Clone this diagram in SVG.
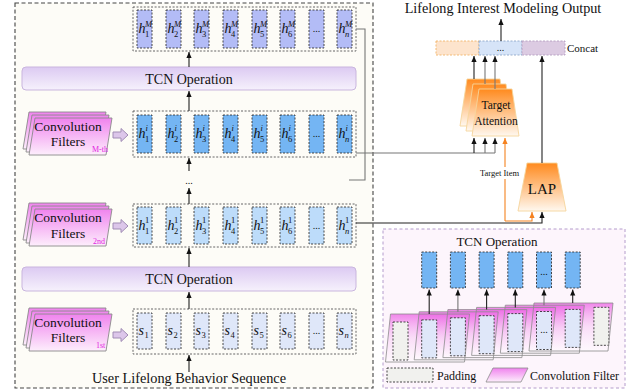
<svg xmlns="http://www.w3.org/2000/svg" xmlns:xlink="http://www.w3.org/1999/xlink" width="628" height="391" viewBox="0 0 628 391">
  <defs>
    <style>
      text { font-family: "Liberation Serif", "Times New Roman", serif; fill: #111; }
      .frame { fill: #fdfcf7; stroke: #444; stroke-width: 1.1; stroke-dasharray: 4 2.5; }
      .rowbox { fill: none; stroke: #555; stroke-width: 0.9; stroke-dasharray: 2 1.6; }
      .cell { stroke: #333; stroke-width: 0.9; stroke-dasharray: 2 1.5; }
      .cM { fill: #b3bcf6; }
      .cI { fill: #74b5f3; }
      .c1 { fill: #bddcfa; }
      .cS { fill: #dfe7f9; }
      .cP { fill: #f1f1ee; }
      .bar { fill: url(#barGrad); stroke: #c9b5de; stroke-width: 1; }
      .card { fill: url(#cardGrad); stroke: #8a8a8a; stroke-width: 0.9; }
      .blk { fill: #dcc6ea; stroke: #a08cb4; stroke-width: 1; }
      .conn { fill: none; stroke: #222; stroke-width: 1.1; }
      .connG { fill: none; stroke: #777; stroke-width: 1.1; }
      .connO { fill: none; stroke: #f5821f; stroke-width: 1.1; }
      .trap { fill: url(#orGrad); stroke: #f5d59c; stroke-width: 0.9; }
      .filt { fill: url(#filtGrad); stroke: none; }
      .filtEdge { fill: none; stroke: #8c8c8c; stroke-width: 0.8; }
      .h { font-style: italic; font-size: 14px; }
      .sp { font-size: 8.5px; font-style: italic; }
      .sb { font-size: 8.5px; }
      .dots { font-size: 10px; text-anchor: middle; }
      .big { font-size: 14px; text-anchor: middle; }
      .cf { font-size: 13.5px; text-anchor: middle; }
      .ord { font-size: 8px; fill: #e21ee0; }
    </style>
    <linearGradient id="barGrad" x1="0" y1="0" x2="0" y2="1">
      <stop offset="0" stop-color="#dccaf2"/>
      <stop offset="1" stop-color="#f6f1fc"/>
    </linearGradient>
    <linearGradient id="cardGrad" x1="0" y1="0" x2="0" y2="1">
      <stop offset="0" stop-color="#f083ee"/>
      <stop offset="1" stop-color="#fdeefc"/>
    </linearGradient>
    <linearGradient id="orGrad" x1="0" y1="0" x2="0" y2="1">
      <stop offset="0" stop-color="#ff8a1e"/>
      <stop offset="1" stop-color="#fff8ef"/>
    </linearGradient>
    <linearGradient id="filtGrad" x1="0" y1="0" x2="0" y2="1">
      <stop offset="0" stop-color="#ec5fe4" stop-opacity="0.75"/>
      <stop offset="0.5" stop-color="#f5b8f1" stop-opacity="0.4"/>
      <stop offset="1" stop-color="#ffffff" stop-opacity="0.3"/>
    </linearGradient>
    <marker id="ah" viewBox="0 0 6 6" refX="6" refY="3" markerWidth="6" markerHeight="6" markerUnits="userSpaceOnUse" orient="auto">
      <path d="M0,0.4 L6,3 L0,5.6 z" fill="#111"/>
    </marker>
    <marker id="ahO" viewBox="0 0 6 6" refX="6" refY="3" markerWidth="6" markerHeight="6" markerUnits="userSpaceOnUse" orient="auto">
      <path d="M0,0.4 L6,3 L0,5.6 z" fill="#f5821f"/>
    </marker>
    <!-- filter card of the left stacks -->
    <polygon id="cardShape" points="6,0 83,0 77,37 0,37"/>
    <!-- hollow block arrow -->
    <path id="blockArrow" d="M0,-3 H8 V-6.5 L15,0 L8,6.5 V3 H0 z"/>
    <!-- sliding convolution filter -->
    <polygon id="filtShape" points="0,48 79,48 84,0 5,0"/>
  </defs>

  <!-- ===== Left panel: stacked TCN layers ===== -->
  <rect class="frame" x="15" y="3" width="358" height="385"/>

  <!-- convolution filter stacks -->
  <g id="filters-M">
    <use href="#cardShape" class="card" transform="translate(23,112)"/>
    <use href="#cardShape" class="card" transform="translate(26,115)"/>
    <use href="#cardShape" class="card" transform="translate(29,118)"/>
    <text class="cf" x="68" y="131">Convolution</text>
    <text class="cf" x="68" y="146">Filters</text>
    <text class="ord" x="92" y="152">M-th</text>
    <use href="#blockArrow" class="blk" transform="translate(113,135)"/>
  </g>
  <g id="filters-2">
    <use href="#cardShape" class="card" transform="translate(23,203)"/>
    <use href="#cardShape" class="card" transform="translate(26,206)"/>
    <use href="#cardShape" class="card" transform="translate(29,209)"/>
    <text class="cf" x="68" y="222">Convolution</text>
    <text class="cf" x="68" y="238">Filters</text>
    <text class="ord" x="93" y="244">2nd</text>
    <use href="#blockArrow" class="blk" transform="translate(113,226)"/>
  </g>
  <g id="filters-1">
    <use href="#cardShape" class="card" transform="translate(23,308)"/>
    <use href="#cardShape" class="card" transform="translate(26,311)"/>
    <use href="#cardShape" class="card" transform="translate(29,314)"/>
    <text class="cf" x="68" y="327">Convolution</text>
    <text class="cf" x="68" y="342">Filters</text>
    <text class="ord" x="96" y="348">1st</text>
    <use href="#blockArrow" class="blk" transform="translate(113,335)"/>
  </g>

  <!-- TCN operation bars -->
  <g id="tcn-bar-top">
    <rect class="bar" x="22" y="67" width="334" height="23" rx="4"/>
    <text class="big" x="189" y="84">TCN Operation</text>
  </g>
  <g id="tcn-bar-bottom">
    <rect class="bar" x="22" y="267" width="334" height="24" rx="4"/>
    <text class="big" x="189" y="284">TCN Operation</text>
  </g>

  <!-- output row h^M -->
  <g id="row-hM">
    <rect class="rowbox" x="133" y="7" width="223" height="44"/>
    <rect class="cell cM" x="137" y="10" width="15" height="38"/>
    <rect class="cell cM" x="166" y="10" width="15" height="38"/>
    <rect class="cell cM" x="194" y="10" width="15" height="38"/>
    <rect class="cell cM" x="223" y="10" width="15" height="38"/>
    <rect class="cell cM" x="252" y="10" width="15" height="38"/>
    <rect class="cell cM" x="280" y="10" width="15" height="38"/>
    <rect class="cell cM" x="309" y="10" width="15" height="38"/>
    <rect class="cell cM" x="337" y="10" width="15" height="38"/>
    <text class="h" x="138.5" y="33">h</text><text class="sp" x="145" y="27">M</text><text class="sb" x="145" y="37">1</text>
    <text class="h" x="167.5" y="33">h</text><text class="sp" x="174" y="27">M</text><text class="sb" x="174" y="37">2</text>
    <text class="h" x="195.5" y="33">h</text><text class="sp" x="202" y="27">M</text><text class="sb" x="202" y="37">3</text>
    <text class="h" x="224.5" y="33">h</text><text class="sp" x="231" y="27">M</text><text class="sb" x="231" y="37">4</text>
    <text class="h" x="253.5" y="33">h</text><text class="sp" x="260" y="27">M</text><text class="sb" x="260" y="37">5</text>
    <text class="h" x="281.5" y="33">h</text><text class="sp" x="288" y="27">M</text><text class="sb" x="288" y="37">6</text>
    <text class="dots" x="316.5" y="32">...</text>
    <text class="h" x="338.5" y="33">h</text><text class="sp" x="345" y="27">M</text><text class="sp" x="345" y="37">n</text>
  </g>

  <!-- row h^i -->
  <g id="row-hi">
    <rect class="rowbox" x="133" y="111" width="223" height="46"/>
    <rect class="cell cI" x="137" y="115" width="15" height="38"/>
    <rect class="cell cI" x="166" y="115" width="15" height="38"/>
    <rect class="cell cI" x="194" y="115" width="15" height="38"/>
    <rect class="cell cI" x="223" y="115" width="15" height="38"/>
    <rect class="cell cI" x="252" y="115" width="15" height="38"/>
    <rect class="cell cI" x="280" y="115" width="15" height="38"/>
    <rect class="cell cI" x="309" y="115" width="15" height="38"/>
    <rect class="cell cI" x="337" y="115" width="15" height="38"/>
    <text class="h" x="138.5" y="138">h</text><text class="sp" x="145.5" y="131">i</text><text class="sb" x="145" y="142">1</text>
    <text class="h" x="167.5" y="138">h</text><text class="sp" x="174.5" y="131">i</text><text class="sb" x="174" y="142">2</text>
    <text class="h" x="195.5" y="138">h</text><text class="sp" x="202.5" y="131">i</text><text class="sb" x="202" y="142">3</text>
    <text class="h" x="224.5" y="138">h</text><text class="sp" x="231.5" y="131">i</text><text class="sb" x="231" y="142">4</text>
    <text class="h" x="253.5" y="138">h</text><text class="sp" x="260.5" y="131">i</text><text class="sb" x="260" y="142">5</text>
    <text class="h" x="281.5" y="138">h</text><text class="sp" x="288.5" y="131">i</text><text class="sb" x="288" y="142">6</text>
    <text class="dots" x="316.5" y="137">...</text>
    <text class="h" x="338.5" y="138">h</text><text class="sp" x="345.5" y="131">i</text><text class="sp" x="345" y="142">n</text>
  </g>

  <!-- row h^1 -->
  <g id="row-h1">
    <rect class="rowbox" x="133" y="204" width="223" height="43"/>
    <rect class="cell c1" x="137" y="207" width="15" height="37"/>
    <rect class="cell c1" x="166" y="207" width="15" height="37"/>
    <rect class="cell c1" x="194" y="207" width="15" height="37"/>
    <rect class="cell c1" x="223" y="207" width="15" height="37"/>
    <rect class="cell c1" x="252" y="207" width="15" height="37"/>
    <rect class="cell c1" x="280" y="207" width="15" height="37"/>
    <rect class="cell c1" x="309" y="207" width="15" height="37"/>
    <rect class="cell c1" x="337" y="207" width="15" height="37"/>
    <text class="h" x="138.5" y="230">h</text><text class="sb" x="145" y="223">1</text><text class="sb" x="145" y="234">1</text>
    <text class="h" x="167.5" y="230">h</text><text class="sb" x="174" y="223">1</text><text class="sb" x="174" y="234">2</text>
    <text class="h" x="195.5" y="230">h</text><text class="sb" x="202" y="223">1</text><text class="sb" x="202" y="234">3</text>
    <text class="h" x="224.5" y="230">h</text><text class="sb" x="231" y="223">1</text><text class="sb" x="231" y="234">4</text>
    <text class="h" x="253.5" y="230">h</text><text class="sb" x="260" y="223">1</text><text class="sb" x="260" y="234">5</text>
    <text class="h" x="281.5" y="230">h</text><text class="sb" x="288" y="223">1</text><text class="sb" x="288" y="234">6</text>
    <text class="dots" x="316.5" y="229">...</text>
    <text class="h" x="338.5" y="230">h</text><text class="sb" x="345" y="223">1</text><text class="sp" x="345" y="234">n</text>
  </g>

  <!-- input row s -->
  <g id="row-s">
    <rect class="rowbox" x="133" y="309" width="223" height="45"/>
    <rect class="cell cS" x="137" y="313" width="15" height="36"/>
    <rect class="cell cS" x="166" y="313" width="15" height="36"/>
    <rect class="cell cS" x="194" y="313" width="15" height="36"/>
    <rect class="cell cS" x="223" y="313" width="15" height="36"/>
    <rect class="cell cS" x="252" y="313" width="15" height="36"/>
    <rect class="cell cS" x="280" y="313" width="15" height="36"/>
    <rect class="cell cS" x="309" y="313" width="15" height="36"/>
    <rect class="cell cS" x="337" y="313" width="15" height="36"/>
    <text class="h" x="138.5" y="335">s</text><text class="sb" x="144.5" y="338">1</text>
    <text class="h" x="167.5" y="335">s</text><text class="sb" x="173.5" y="338">2</text>
    <text class="h" x="195.5" y="335">s</text><text class="sb" x="201.5" y="338">3</text>
    <text class="h" x="224.5" y="335">s</text><text class="sb" x="230.5" y="338">4</text>
    <text class="h" x="253.5" y="335">s</text><text class="sb" x="259.5" y="338">5</text>
    <text class="h" x="281.5" y="335">s</text><text class="sb" x="287.5" y="338">6</text>
    <text class="dots" x="316.5" y="334">...</text>
    <text class="h" x="338.5" y="335">s</text><text class="sp" x="344.5" y="338">n</text>
  </g>

  <text id="seq-label" class="big" x="189" y="383" style="font-size:14.3px">User Lifelong Behavior Sequence</text>
  <text id="layer-dots" class="dots" x="189" y="184">...</text>

  <!-- ===== Target attention / LAP / concat ===== -->
  <g id="concat">
    <rect x="436" y="41" width="43" height="14" fill="#fde4cd" stroke="#f2b46a" stroke-width="0.9" stroke-dasharray="2 1.5"/>
    <rect x="479" y="41" width="43" height="14" fill="#d6e4f8" stroke="#8fa7c8" stroke-width="0.9" stroke-dasharray="2 1.5"/>
    <rect x="522" y="41" width="43" height="14" fill="#dccbe2" stroke="#b39dc0" stroke-width="0.9" stroke-dasharray="2 1.5"/>
    <text class="dots" x="500.5" y="51">...</text>
    <text x="567" y="52" style="font-size:11px">Concat</text>
  </g>
  <text id="output-title" class="big" x="503" y="13" style="font-size:14.2px">Lifelong Interest Modeling Output</text>

  <g id="target-attention">
    <polygon class="trap" points="467,79 500,79 507,126 460,126"/>
    <polygon class="trap" points="473,84 506,84 513,131 466,131"/>
    <polygon class="trap" points="479,89 512,89 519,136 472,136"/>
    <text x="496" y="109" style="font-size:11.5px;text-anchor:middle">Target</text>
    <text x="496" y="125" style="font-size:11.5px;text-anchor:middle">Attention</text>
  </g>

  <g id="lap">
    <polygon class="trap" points="527,163 557,163 566,211 518,211"/>
    <text x="542" y="194" style="font-size:15px;text-anchor:middle">LAP</text>
  </g>

  <!-- ===== Right panel: TCN operation detail ===== -->
  <g id="tcn-detail">
    <rect x="383" y="229" width="242" height="159" fill="#fdf5fc" stroke="#b49ccc" stroke-width="1" stroke-dasharray="3 2.5"/>
    <text x="497" y="246" style="font-size:13px;text-anchor:middle">TCN Operation</text>
    <!-- output cells -->
    <rect class="cell cI" x="421.7" y="252" width="15" height="36"/>
    <rect class="cell cI" x="450.4" y="252" width="15" height="36"/>
    <rect class="cell cI" x="479.1" y="252" width="15" height="36"/>
    <rect class="cell cI" x="507.8" y="252" width="15" height="36"/>
    <rect class="cell cI" x="536.5" y="252" width="15" height="36"/>
    <rect class="cell cI" x="565.2" y="252" width="15" height="36"/>
    <text class="dots" x="544" y="275">...</text>
    <!-- sliding filter bodies -->
    <use href="#filtShape" class="filt" transform="translate(385.5,314)"/>
    <use href="#filtShape" class="filt" transform="translate(414.2,311.8)"/>
    <use href="#filtShape" class="filt" transform="translate(442.9,309.6)"/>
    <use href="#filtShape" class="filt" transform="translate(471.6,307.4)"/>
    <use href="#filtShape" class="filt" transform="translate(500.3,305.2)"/>
    <use href="#filtShape" class="filt" transform="translate(529,303)"/>
    <!-- input cells with padding at both ends -->
    <rect class="cell cP" x="393" y="322" width="15" height="38"/>
    <rect class="cell cS" x="421.7" y="319.9" width="15" height="38"/>
    <rect class="cell cS" x="450.4" y="317.8" width="15" height="38"/>
    <rect class="cell cS" x="479.1" y="315.7" width="15" height="38"/>
    <rect class="cell cS" x="507.8" y="313.6" width="15" height="38"/>
    <rect class="cell cS" x="536.5" y="311.5" width="15" height="38"/>
    <rect class="cell cS" x="565.2" y="309.4" width="15" height="38"/>
    <rect class="cell cP" x="593.9" y="307.3" width="15" height="38"/>
    <text class="dots" x="544" y="333">...</text>
    <!-- filter outlines -->
    <use href="#filtShape" class="filtEdge" transform="translate(385.5,314)"/>
    <use href="#filtShape" class="filtEdge" transform="translate(414.2,311.8)"/>
    <use href="#filtShape" class="filtEdge" transform="translate(442.9,309.6)"/>
    <use href="#filtShape" class="filtEdge" transform="translate(471.6,307.4)"/>
    <use href="#filtShape" class="filtEdge" transform="translate(500.3,305.2)"/>
    <use href="#filtShape" class="filtEdge" transform="translate(529,303)"/>
    <!-- filter outputs -->
    <path class="conn" d="M429.2,314 V289.5" marker-end="url(#ah)"/>
    <path class="connG" d="M457.9,311.8 V289.5" marker-end="url(#ah)"/>
    <path class="conn" d="M486.6,309.6 V289.5" marker-end="url(#ah)"/>
    <path class="conn" d="M515.3,307.4 V289.5" marker-end="url(#ah)"/>
    <path class="connG" d="M544,305.2 V289.5" marker-end="url(#ah)"/>
    <path class="conn" d="M572.7,303 V289.5" marker-end="url(#ah)"/>
    <!-- legend -->
    <rect class="cell cP" x="387" y="368" width="46" height="14"/>
    <text x="437" y="380" style="font-size:12px">Padding</text>
    <polygon points="493,368 528,368 521,382 486,382" fill="url(#cardGrad)" stroke="#8c8c8c" stroke-width="0.8"/>
    <text x="530" y="380" style="font-size:12px">Convolution Filter</text>
  </g>

  <!-- ===== Connectors ===== -->
  <g id="connectors">
    <path class="conn" d="M189,67 V52" marker-end="url(#ah)"/>
    <path class="conn" d="M189,111 V91" marker-end="url(#ah)"/>
    <path class="conn" d="M189,171 V158" marker-end="url(#ah)"/>
    <path class="conn" d="M189,204 V188" marker-end="url(#ah)"/>
    <path class="conn" d="M189,267 V248" marker-end="url(#ah)"/>
    <path class="conn" d="M189,309 V292" marker-end="url(#ah)"/>
    <path class="conn" d="M189,372 V355" marker-end="url(#ah)"/>

    <!-- top layer output -->
    <path class="connG" d="M356,29 H365 V180 H349"/>
    <!-- h^i layer into target attention -->
    <path class="connG" d="M356,153 H495"/>
    <path class="conn" d="M474,153 V138" marker-end="url(#ah)"/>
    <path class="connG" d="M485,153 V138" marker-end="url(#ah)"/>
    <path class="connG" d="M495,153 V138" marker-end="url(#ah)"/>
    <!-- target attention heads to concat -->
    <path class="conn" d="M474,79 V56" marker-end="url(#ah)"/>
    <path class="connG" d="M485,84 V56" marker-end="url(#ah)"/>
    <path class="connG" d="M495,89 V56" marker-end="url(#ah)"/>
    <!-- h^1 layer into LAP -->
    <path class="conn" d="M356,223 H542 V212" marker-end="url(#ah)"/>
    <!-- LAP to concat, concat to output -->
    <path class="conn" d="M542,163 V56" marker-end="url(#ah)"/>
    <path class="conn" d="M501,41 V19" marker-end="url(#ah)"/>
    <!-- target item -->
    <path class="connO" d="M505,221 V138" marker-end="url(#ahO)"/>
    <path class="connO" d="M505,221 H532 V212" marker-end="url(#ahO)"/>
    <rect x="479" y="167" width="41" height="12" fill="#ffffff"/>
    <text x="499.5" y="176" style="font-size:8.5px;text-anchor:middle">Target Item</text>
  </g>
</svg>
